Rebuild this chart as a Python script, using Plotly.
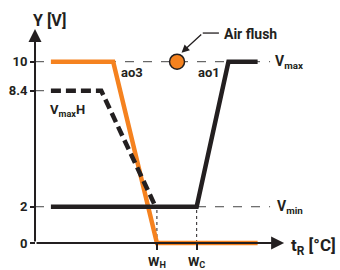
import plotly.graph_objects as go

# ---- data (schematic units) ----
ao3_x = [6, 29.5, 46, 84]
ao3_y = [10, 10, 0, 0]
ao1_x = [6, 61, 73, 84]
ao1_y = [2, 2, 10, 10]
vmaxh_x = [6, 25, 45.5]
vmaxh_y = [8.4, 8.4, 2.0]
y_tick_vals = [0, 2, 8.4, 10]
y_tick_text = ["0", "2", "8.4", "10"]
x_tick_vals = [46, 61]
x_tick_text = ["W<sub>H</sub>", "W<sub>C</sub>"]
v_max = 10
v_min = 2
v_maxh = 8.4
air_flush_x = [53.6]
air_flush_y = [10]
guide_end = 88.7
x_arrow_end = 94
y_arrow_end = 11.8

ORANGE = "#F5821F"
DARK = "#231F20"
GRAY = "#444444"
FONT = "Roboto"

fig = go.Figure()

# guide lines
def guide(xs, ys, dash="dash", color=GRAY, width=1):
    fig.add_trace(go.Scatter(x=xs, y=ys, mode="lines", hoverinfo="skip",
                             line=dict(color=color, width=width, dash=dash),
                             showlegend=False))

guide([0, guide_end], [v_max, v_max])
guide([0, vmaxh_x[0]], [v_maxh, v_maxh])
guide([0, guide_end], [v_min, v_min])
guide([x_tick_vals[0], x_tick_vals[0]], [0, v_min], dash="dot", color=DARK)
guide([x_tick_vals[1], x_tick_vals[1]], [0, v_min], dash="dot", color=DARK)

# series
fig.add_trace(go.Scatter(x=ao3_x, y=ao3_y, mode="lines", showlegend=False,
                         line=dict(color=ORANGE, width=4.5)))
fig.add_trace(go.Scatter(x=vmaxh_x, y=vmaxh_y, mode="lines", showlegend=False,
                         line=dict(color=DARK, width=4.5, dash="10px,5px")))
fig.add_trace(go.Scatter(x=ao1_x, y=ao1_y, mode="lines", showlegend=False,
                         line=dict(color=DARK, width=4.5)))
fig.add_trace(go.Scatter(x=air_flush_x, y=air_flush_y, mode="markers", showlegend=False,
                         marker=dict(color=ORANGE, size=15,
                                     line=dict(color=DARK, width=1.5))))

# air flush leader line
fig.add_trace(go.Scatter(x=[69.4, 63.3], y=[11.58, 11.58], mode="lines",
                         showlegend=False, line=dict(color=DARK, width=1.3)))

annotations = [
    # axes arrows
    dict(x=0, y=y_arrow_end, ax=0, ay=0, xref="x", yref="y", axref="x", ayref="y",
         text="", showarrow=True, arrowhead=2, arrowsize=1.3, arrowwidth=2, arrowcolor=DARK),
    dict(x=x_arrow_end, y=0, ax=0, ay=0, xref="x", yref="y", axref="x", ayref="y",
         text="", showarrow=True, arrowhead=2, arrowsize=1.3, arrowwidth=2, arrowcolor=DARK),
    # air flush arrow
    dict(x=55.3, y=10.5, ax=63.3, ay=11.58, xref="x", yref="y", axref="x", ayref="y",
         text="", showarrow=True, arrowhead=2, arrowsize=1.2, arrowwidth=1.3, arrowcolor=DARK),
]

def label(text, x, y, size, xanchor="center", yanchor="middle"):
    annotations.append(dict(x=x, y=y, xref="x", yref="y", text=text, showarrow=False,
                            xanchor=xanchor, yanchor=yanchor,
                            font=dict(family=FONT, size=size, color=DARK, weight="bold")))

label("Y [V]", 5.3, 12.3, 16)
label("Air flush", 70.5, 11.55, 14, xanchor="left")
label("ao3", 36.6, 9.4, 13)
label("ao1", 65.7, 9.4, 13)
label("V<sub>max</sub>H", 4.9, 7.3, 13, xanchor="left")
label("V<sub>max</sub>", 89.8, 10, 14, xanchor="left")
label("V<sub>min</sub>", 90.5, 2, 14, xanchor="left")
label("t<sub>R</sub> [°C]", 96, -0.2, 17, xanchor="left")

fig.update_layout(
    width=340, height=270,
    margin=dict(l=0, r=0, t=0, b=0, pad=0),
    paper_bgcolor="white", plot_bgcolor="white",
    annotations=annotations,
    xaxis=dict(range=[-13.21, 115.09], anchor="free", position=0.1,
               tickvals=x_tick_vals, ticktext=x_tick_text,
               ticks="outside", ticklen=6, tickwidth=1.5, tickcolor=DARK,
               tickfont=dict(family=FONT, size=13, color=DARK, weight="bold"),
               showgrid=False, zeroline=False, showline=False, fixedrange=True),
    yaxis=dict(range=[-1.489, 13.403], anchor="free", position=35 / 340,
               tickvals=y_tick_vals, ticktext=y_tick_text,
               ticks="outside", ticklen=5, tickwidth=1.5, tickcolor=DARK,
               tickfont=dict(family=FONT, size=13, color=DARK, weight="bold"),
               showgrid=False, zeroline=False, showline=False, fixedrange=True),
)

fig.write_html("out.html", config={"displayModeBar": False},
               post_script="document.body.style.margin='0px';document.body.style.overflow='hidden';")
